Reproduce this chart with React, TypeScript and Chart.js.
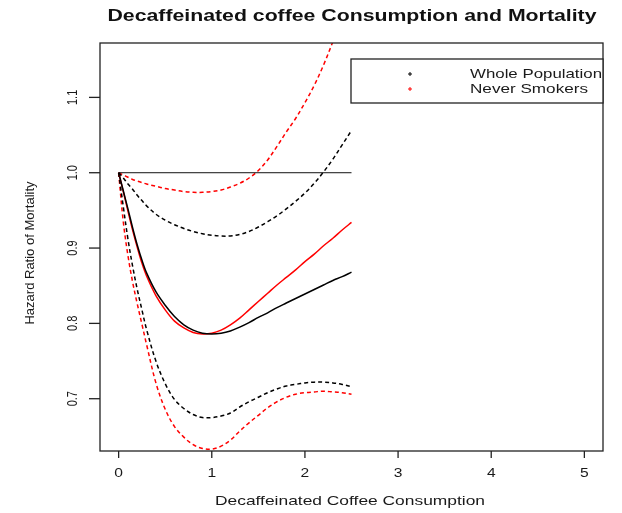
import React, { useEffect, useRef } from "react";
import { Chart, registerables } from "chart.js";

Chart.register(...registerables);

// ---- data ----
const chartTitle = "Decaffeinated coffee Consumption and Mortality";
const xAxisTitle = "Decaffeinated Coffee Consumption";
const yAxisTitle = "Hazard Ratio of Mortality";
const legendLabels = ["Whole Population", "Never Smokers"];

const xValues = [0, 0.05, 0.1, 0.15, 0.2, 0.25, 0.3, 0.4, 0.5, 0.6, 0.7, 0.8, 0.9, 1.0, 1.1, 1.2, 1.3, 1.4, 1.5, 1.6, 1.7, 1.8, 1.9, 2.0, 2.1, 2.2, 2.3, 2.4, 2.5];

const wholeEstimate = [1.0, 0.976, 0.952, 0.927, 0.904, 0.884, 0.867, 0.842, 0.824, 0.809, 0.798, 0.791, 0.787, 0.786, 0.787, 0.790, 0.795, 0.801, 0.808, 0.814, 0.821, 0.827, 0.833, 0.839, 0.845, 0.851, 0.857, 0.862, 0.868];
const wholeUpper = [1.0, 0.993, 0.985, 0.978, 0.97, 0.963, 0.956, 0.945, 0.937, 0.931, 0.926, 0.922, 0.919, 0.917, 0.916, 0.916, 0.918, 0.922, 0.928, 0.935, 0.943, 0.952, 0.962, 0.973, 0.986, 1.001, 1.018, 1.037, 1.056];
const wholeLower = [1.0, 0.955, 0.912, 0.876, 0.845, 0.818, 0.792, 0.75, 0.72, 0.699, 0.687, 0.679, 0.675, 0.675, 0.677, 0.681, 0.689, 0.696, 0.702, 0.708, 0.713, 0.717, 0.719, 0.721, 0.722, 0.722, 0.721, 0.719, 0.716];

const neverEstimate = [1.0, 0.975, 0.949, 0.924, 0.901, 0.88, 0.863, 0.837, 0.818, 0.803, 0.794, 0.788, 0.786, 0.787, 0.791, 0.798, 0.807, 0.818, 0.829, 0.84, 0.851, 0.861, 0.871, 0.882, 0.892, 0.903, 0.913, 0.924, 0.934];
const neverUpper = [1.0, 0.997, 0.994, 0.991, 0.989, 0.987, 0.985, 0.982, 0.979, 0.977, 0.975, 0.974, 0.974, 0.975, 0.977, 0.981, 0.986, 0.993, 1.003, 1.017, 1.035, 1.054, 1.072, 1.093, 1.116, 1.143, 1.174, 1.207, 1.24];
const neverLower = [1.0, 0.935, 0.89, 0.855, 0.826, 0.799, 0.772, 0.721, 0.686, 0.663, 0.649, 0.639, 0.634, 0.633, 0.637, 0.645, 0.657, 0.668, 0.678, 0.688, 0.696, 0.702, 0.706, 0.708, 0.709, 0.71, 0.709, 0.708, 0.706];

const refLineX = [0, 2.5];
const refLineY = [1, 1];

const xTickValues = [0, 1, 2, 3, 4, 5];
const xTickLabels = ["0", "1", "2", "3", "4", "5"];
const yTickValues = [0.7, 0.8, 0.9, 1.0, 1.1];
const yTickLabels = ["0.7", "0.8", "0.9", "1.0", "1.1"];

const xRange = [-0.2, 5.2];
const yRange = [0.6306, 1.1722];

const toPoints = (xs: number[], ys: number[]) => xs.map((x, i) => ({ x, y: ys[i] }));

function drawText(
  ctx: CanvasRenderingContext2D,
  s: string,
  x: number,
  y: number,
  font: string,
  opts: { sx?: number; width?: number; rot?: number; align?: CanvasTextAlign; color?: string } = {}
) {
  ctx.save();
  ctx.font = font;
  let sx = opts.sx ?? 1;
  if (opts.width) sx = opts.width / ctx.measureText(s).width;
  ctx.translate(x, y);
  ctx.scale(sx, 1);
  if (opts.rot) ctx.rotate(opts.rot);
  ctx.textAlign = opts.align ?? "center";
  ctx.textBaseline = "middle";
  ctx.fillStyle = opts.color ?? "#1a1a1a";
  ctx.fillText(s, 0, 0);
  ctx.restore();
}

const rPlotPlugin = {
  id: "rplot",
  beforeDraw(chart: any) {
    const ctx = chart.ctx as CanvasRenderingContext2D;
    ctx.save();
    ctx.fillStyle = "#ffffff";
    ctx.fillRect(0, 0, chart.width, chart.height);
    ctx.restore();
  },
  afterDraw(chart: any) {
    const ctx = chart.ctx as CanvasRenderingContext2D;
    const { left, right, top, bottom } = chart.chartArea;
    const xs = chart.scales.x;
    const ys = chart.scales.y;
    const font = "Liberation Sans, Arial, sans-serif";

    ctx.save();
    ctx.strokeStyle = "#222";
    ctx.lineWidth = 1.3;
    ctx.strokeRect(left, top, right - left, bottom - top);

    // x ticks
    xTickValues.forEach((v, i) => {
      const px = xs.getPixelForValue(v);
      ctx.beginPath();
      ctx.moveTo(px, bottom);
      ctx.lineTo(px, bottom + 7);
      ctx.stroke();
      drawText(ctx, xTickLabels[i], px, 474, `12px ${font}`, { sx: 1.3 });
    });
    // y ticks
    yTickValues.forEach((v, i) => {
      const py = ys.getPixelForValue(v);
      ctx.beginPath();
      ctx.moveTo(left - 11, py);
      ctx.lineTo(left, py);
      ctx.stroke();
      drawText(ctx, yTickLabels[i], 73, py, `11px ${font}`, { sx: 1.35, rot: -Math.PI / 2 });
    });

    // titles
    drawText(ctx, chartTitle, 352, 17, `bold 16px ${font}`, { width: 489, color: "#111" });
    drawText(ctx, xAxisTitle, 350, 501, `13px ${font}`, { width: 270 });
    drawText(ctx, yAxisTitle, 30, 253, `13px ${font}`, { sx: 1.0, rot: -Math.PI / 2 });

    // legend
    ctx.fillStyle = "#fff";
    ctx.fillRect(351, 59, right - 351, 44);
    ctx.strokeStyle = "#222";
    ctx.lineWidth = 1.3;
    ctx.strokeRect(351, 59, right - 351, 44);
    const legendColors = ["#000000", "#ff0000"];
    const legendY = [74, 89];
    legendLabels.forEach((lab, i) => {
      ctx.strokeStyle = legendColors[i];
      ctx.lineWidth = 1;
      ctx.beginPath();
      ctx.moveTo(408, legendY[i]);
      ctx.lineTo(412, legendY[i]);
      ctx.moveTo(410, legendY[i] - 2);
      ctx.lineTo(410, legendY[i] + 2);
      ctx.stroke();
    });
    ctx.save();
    ctx.beginPath();
    ctx.rect(0, 0, right, chart.height);
    ctx.clip();
    drawText(ctx, legendLabels[0], 470, legendY[0], `13px ${font}`, { width: 132, align: "left" });
    drawText(ctx, legendLabels[1], 470, legendY[1], `13px ${font}`, { width: 118, align: "left" });
    ctx.restore();
    ctx.restore();
  },
};

export default function App() {
  const ref = useRef<HTMLCanvasElement>(null);
  useEffect(() => {
    document.body.style.margin = "0";
    const canvas = ref.current!;
    const mk = (label: string, ys: number[], color: string, dashed: boolean, width = 1.5) => ({
      label,
      data: toPoints(xValues, ys),
      borderColor: color,
      backgroundColor: color,
      borderWidth: width,
      borderDash: dashed ? [4, 3] : [],
      pointRadius: 0,
      showLine: true,
      fill: false,
      tension: 0.35,
    });
    const chart = new Chart(canvas, {
      type: "scatter",
      data: {
        datasets: [
          {
            label: "ref",
            data: toPoints(refLineX, refLineY),
            borderColor: "#111",
            borderWidth: 1,
            pointRadius: 0,
            showLine: true,
          },
          mk("Whole upper", wholeUpper, "#000000", true),
          mk("Whole lower", wholeLower, "#000000", true),
          mk("Never upper", neverUpper, "#ff0000", true),
          mk("Never lower", neverLower, "#ff0000", true),
          mk("Whole Population", wholeEstimate, "#000000", false),
          mk("Never Smokers", neverEstimate, "#ff0000", false),
        ],
      },
      options: {
        responsive: false,
        animation: false,
        layout: { padding: { left: 100, right: 19, top: 43, bottom: 62 } },
        scales: {
          x: { type: "linear", min: xRange[0], max: xRange[1], display: false },
          y: { type: "linear", min: yRange[0], max: yRange[1], display: false },
        },
        plugins: {
          legend: { display: false },
          title: { display: false },
          tooltip: { enabled: false },
        },
      },
      plugins: [rPlotPlugin],
    });
    return () => chart.destroy();
  }, []);
  return <canvas ref={ref} width={622} height={513} style={{ display: "block" }} />;
}
